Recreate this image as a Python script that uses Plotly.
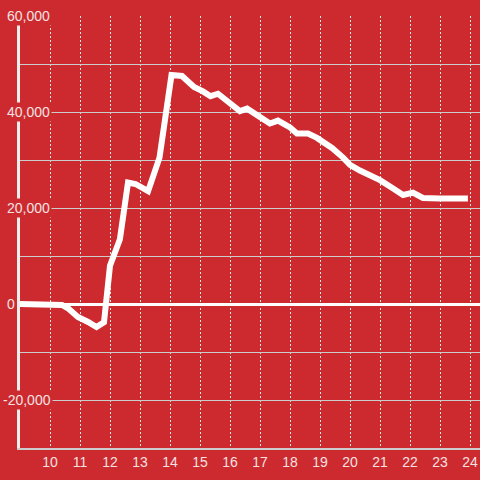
import plotly.graph_objects as go

# Data (hour of day, value)
hours = [9.0, 10.0, 10.4, 10.6, 10.93, 11.27, 11.55, 11.8, 12.0, 12.33, 12.6, 12.85,
         13.27, 13.65, 14.05, 14.4, 14.6, 14.8, 15.1, 15.35, 15.6, 16.0, 16.33, 16.57,
         17.0, 17.33, 17.6, 18.0, 18.23, 18.6, 18.9, 19.4, 19.77, 20.0, 20.33, 21.0,
         21.4, 21.77, 22.1, 22.43, 23.0, 23.93]
values = [0, 0, -200, -900, -2700, -3750, -4800, -3800, 8000, 13500, 25300, 25000,
          23500, 30500, 47700, 47500, 46500, 45200, 44300, 43300, 43800, 42000, 40200, 40700,
          39000, 37600, 38200, 36800, 35500, 35500, 34600, 32500, 30500, 29000, 27800, 25800,
          24200, 22700, 23200, 22100, 22000, 22000]

x_ticks = list(range(10, 25))
x_tick_labels = [str(v) for v in x_ticks]
y_label_values = [60000, 40000, 20000, 0, -20000]
y_label_texts = ["60,000", "40,000", "20,000", "0", "-20,000"]

BG = "#CC2A2F"
TEXT = "#F4E2E2"
W, H = 480, 480
ML, MR, MT, MB = 20, 0, 16, 32
plot_w = W - ML - MR

fig = go.Figure()
fig.add_trace(go.Scatter(x=hours, y=values, mode="lines",
                         line=dict(color="white", width=6), hoverinfo="skip"))

annotations = []
for v, t in zip(y_label_values, y_label_texts):
    left_px = 1 if t.startswith("-") else 5
    annotations.append(dict(
        x=(left_px - ML) / plot_w, xref="paper", y=v, yref="y",
        text=t, showarrow=False, xanchor="left", yanchor="middle",
        bgcolor=BG, borderpad=1,
        font=dict(family="Liberation Sans, Arial, sans-serif", size=14, color=TEXT)))

fig.update_layout(
    width=W, height=H,
    margin=dict(l=ML, r=MR, t=MT, b=MB, pad=0, autoexpand=False),
    paper_bgcolor=BG, plot_bgcolor=BG,
    showlegend=False,
    annotations=annotations,
    font=dict(family="Liberation Sans, Arial, sans-serif", size=14, color=TEXT),
    xaxis=dict(range=[9, 9 + plot_w / 30.0], tickmode="array", tickvals=x_ticks,
               ticktext=x_tick_labels, showgrid=True, gridcolor="#E6E6E6", gridwidth=1,
               griddash="2px,2px", zeroline=False, showline=True, linecolor="#CCCCCC",
               linewidth=2, ticks="", tickfont=dict(size=14, color=TEXT), fixedrange=True),
    yaxis=dict(range=[-30000, 60000], dtick=10000, tick0=0, showgrid=True,
               gridcolor="#CCCCCC", gridwidth=1, zeroline=True, zerolinecolor="white",
               zerolinewidth=3, showticklabels=False, showline=True, linecolor="#EEEEEE",
               linewidth=3, ticks="", fixedrange=True),
)

fig.write_html("out.html", config={"displayModeBar": False},
               post_script="document.body.style.margin='0';document.body.style.overflow='hidden';")
